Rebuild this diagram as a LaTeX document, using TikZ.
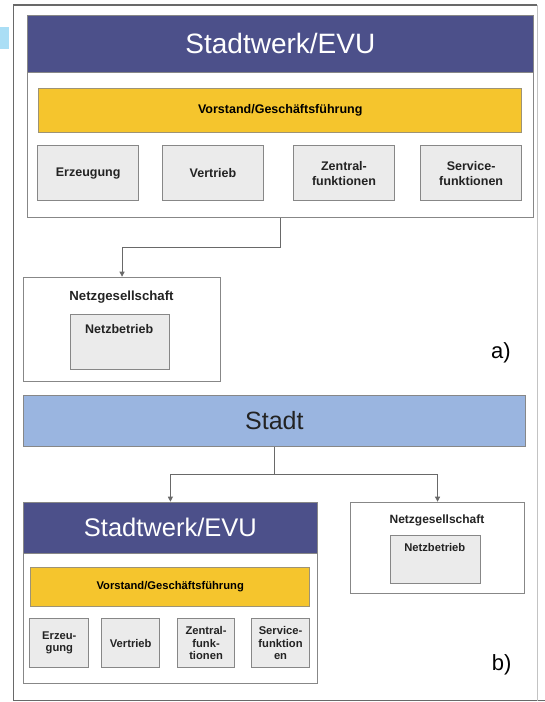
\documentclass[tikz,border=0pt]{standalone}
\usepackage{fontspec}
\setmainfont{Liberation Sans}
\usetikzlibrary{arrows.meta,calc}
\definecolor{hdrblue}{RGB}{76,80,138}
\definecolor{stadtblue}{RGB}{154,181,224}
\definecolor{vyellow}{RGB}{245,197,45}
\definecolor{boxgray}{RGB}{235,235,235}
\definecolor{edgegray}{RGB}{135,135,135}
\definecolor{framegray}{RGB}{105,105,105}
\definecolor{tabblue}{RGB}{170,222,245}
\definecolor{txtdark}{RGB}{35,35,35}
\tikzset{
  plainbox/.style={draw=edgegray, line width=1.1pt, fill=white, anchor=north west, inner sep=0pt},
  header/.style={draw=edgegray, line width=1.1pt, fill=hdrblue, anchor=north west, inner sep=0pt, text=white},
  stadtbar/.style={draw=edgegray, line width=1.1pt, fill=stadtblue, anchor=north west, inner sep=0pt, text=txtdark},
  vbar/.style={draw=edgegray!80!vyellow, line width=1.1pt, fill=vyellow, anchor=north west, inner sep=0pt, text=black},
  unitbox/.style={draw=edgegray, line width=1.1pt, fill=boxgray, anchor=north west, inner sep=0pt, align=center, text=txtdark},
  lbl/.style={inner sep=0pt, text=txtdark},
  conn/.style={draw=framegray, line width=0.9pt},
  arr/.style={conn, -{Triangle[length=5pt,width=5pt]}},
  bigA/.style={font=\fontsize{12.5}{15}\selectfont\bfseries},
  bigB/.style={font=\fontsize{11.2}{12.5}\selectfont\bfseries},
}
\begin{document}
\begin{tikzpicture}[x=1pt,y=-1pt]
\useasboundingbox (0,0) rectangle (545,702);
% outer frame
\draw[framegray, line width=1.2pt] (537,5) -- (13.3,5) -- (13.3,700.7) -- (545,700.7);
\draw[framegray!40, line width=1pt] (537,5) -- (537,700.7);
\fill[tabblue] (0,27) rectangle (9,48.5);

% ---------- a) ----------
\node[plainbox, minimum width=506pt, minimum height=201.7pt] (swa) at (26.8,15) {};
\node[header, minimum width=506pt, minimum height=56.7pt, font=\fontsize{28}{32}\selectfont] (swah) at (26.8,15) {Stadtwerk/EVU};
\node[vbar, minimum width=483pt, minimum height=43.4pt, bigA] (va) at (38.2,88.3) {Vorstand/Geschäftsführung};
\node[unitbox, minimum width=100.8pt, minimum height=55pt, bigA] (a1) at (37.2,145) {Erzeugung};
\node[unitbox, minimum width=100.8pt, minimum height=55pt, bigA] (a2) at (162,145) {Vertrieb};
\node[unitbox, minimum width=100.8pt, minimum height=55pt, bigA] (a3) at (293,145) {Zentral-\\funktionen};
\node[unitbox, minimum width=100.8pt, minimum height=55pt, bigA] (a4) at (420.2,145) {Service-\\funktionen};

\node[plainbox, minimum width=197pt, minimum height=104pt] (neta) at (23,276.7) {};
\node[lbl, font=\fontsize{13.2}{15}\selectfont\bfseries] (netat) at (121.5,296.7) {Netzgesellschaft};
\node[unitbox, minimum width=99.5pt, minimum height=55pt] (nba) at (69.5,314) {};
\node[lbl, bigA] (nbat) at (119.2,329.3) {Netzbetrieb};
\node[lbl, font=\fontsize{22}{26}\selectfont, text=black] (la) at (501,353.3) {a)};

\draw[arr] (swa.south) -- ++(0,29.3) -| (neta.north);

% ---------- b) ----------
\node[stadtbar, minimum width=502.3pt, minimum height=50.7pt, font=\fontsize{25}{30}\selectfont] (stadt) at (22.7,395) {Stadt};

\node[plainbox, minimum width=294.3pt, minimum height=181pt] (swb) at (22.7,501.7) {};
\node[header, minimum width=294.3pt, minimum height=51pt, font=\fontsize{25.5}{30}\selectfont] (swbh) at (22.7,501.7) {Stadtwerk/EVU};
\node[vbar, minimum width=279.3pt, minimum height=38.4pt, bigB] (vb) at (30,567.3) {Vorstand/Geschäftsführung};
\node[unitbox, minimum width=59pt, minimum height=48.4pt, bigB] (b1) at (29.3,618.3) {Erzeu-\\gung};
\node[unitbox, minimum width=58.3pt, minimum height=48.4pt, bigB] (b2) at (101,618.3) {Vertrieb};
\node[unitbox, minimum width=57.6pt, minimum height=48.4pt, bigB] (b3) at (176.7,618.3) {Zentral-\\funk-\\tionen};
\node[unitbox, minimum width=58.6pt, minimum height=48.4pt, bigB] (b4) at (250.7,618.3) {Service-\\funktion\\en};

\node[plainbox, minimum width=174pt, minimum height=91.6pt] (netb) at (350,501.7) {};
\node[lbl, font=\fontsize{12}{14}\selectfont\bfseries] (netbt) at (437,520) {Netzgesellschaft};
\node[unitbox, minimum width=89.7pt, minimum height=48pt] (nbb) at (390,535) {};
\node[lbl, bigB] (nbbt) at (434.8,547.7) {Netzbetrieb};
\node[lbl, font=\fontsize{22}{26}\selectfont, text=black] (lb) at (501.7,665) {b)};

\coordinate (jb) at ($(stadt.south)+(0,27.6)$);
\draw[conn] (stadt.south) -- (jb);
\draw[arr] (jb) -| (swb.north);
\draw[arr] (jb) -| (netb.north);
\end{tikzpicture}
\end{document}
